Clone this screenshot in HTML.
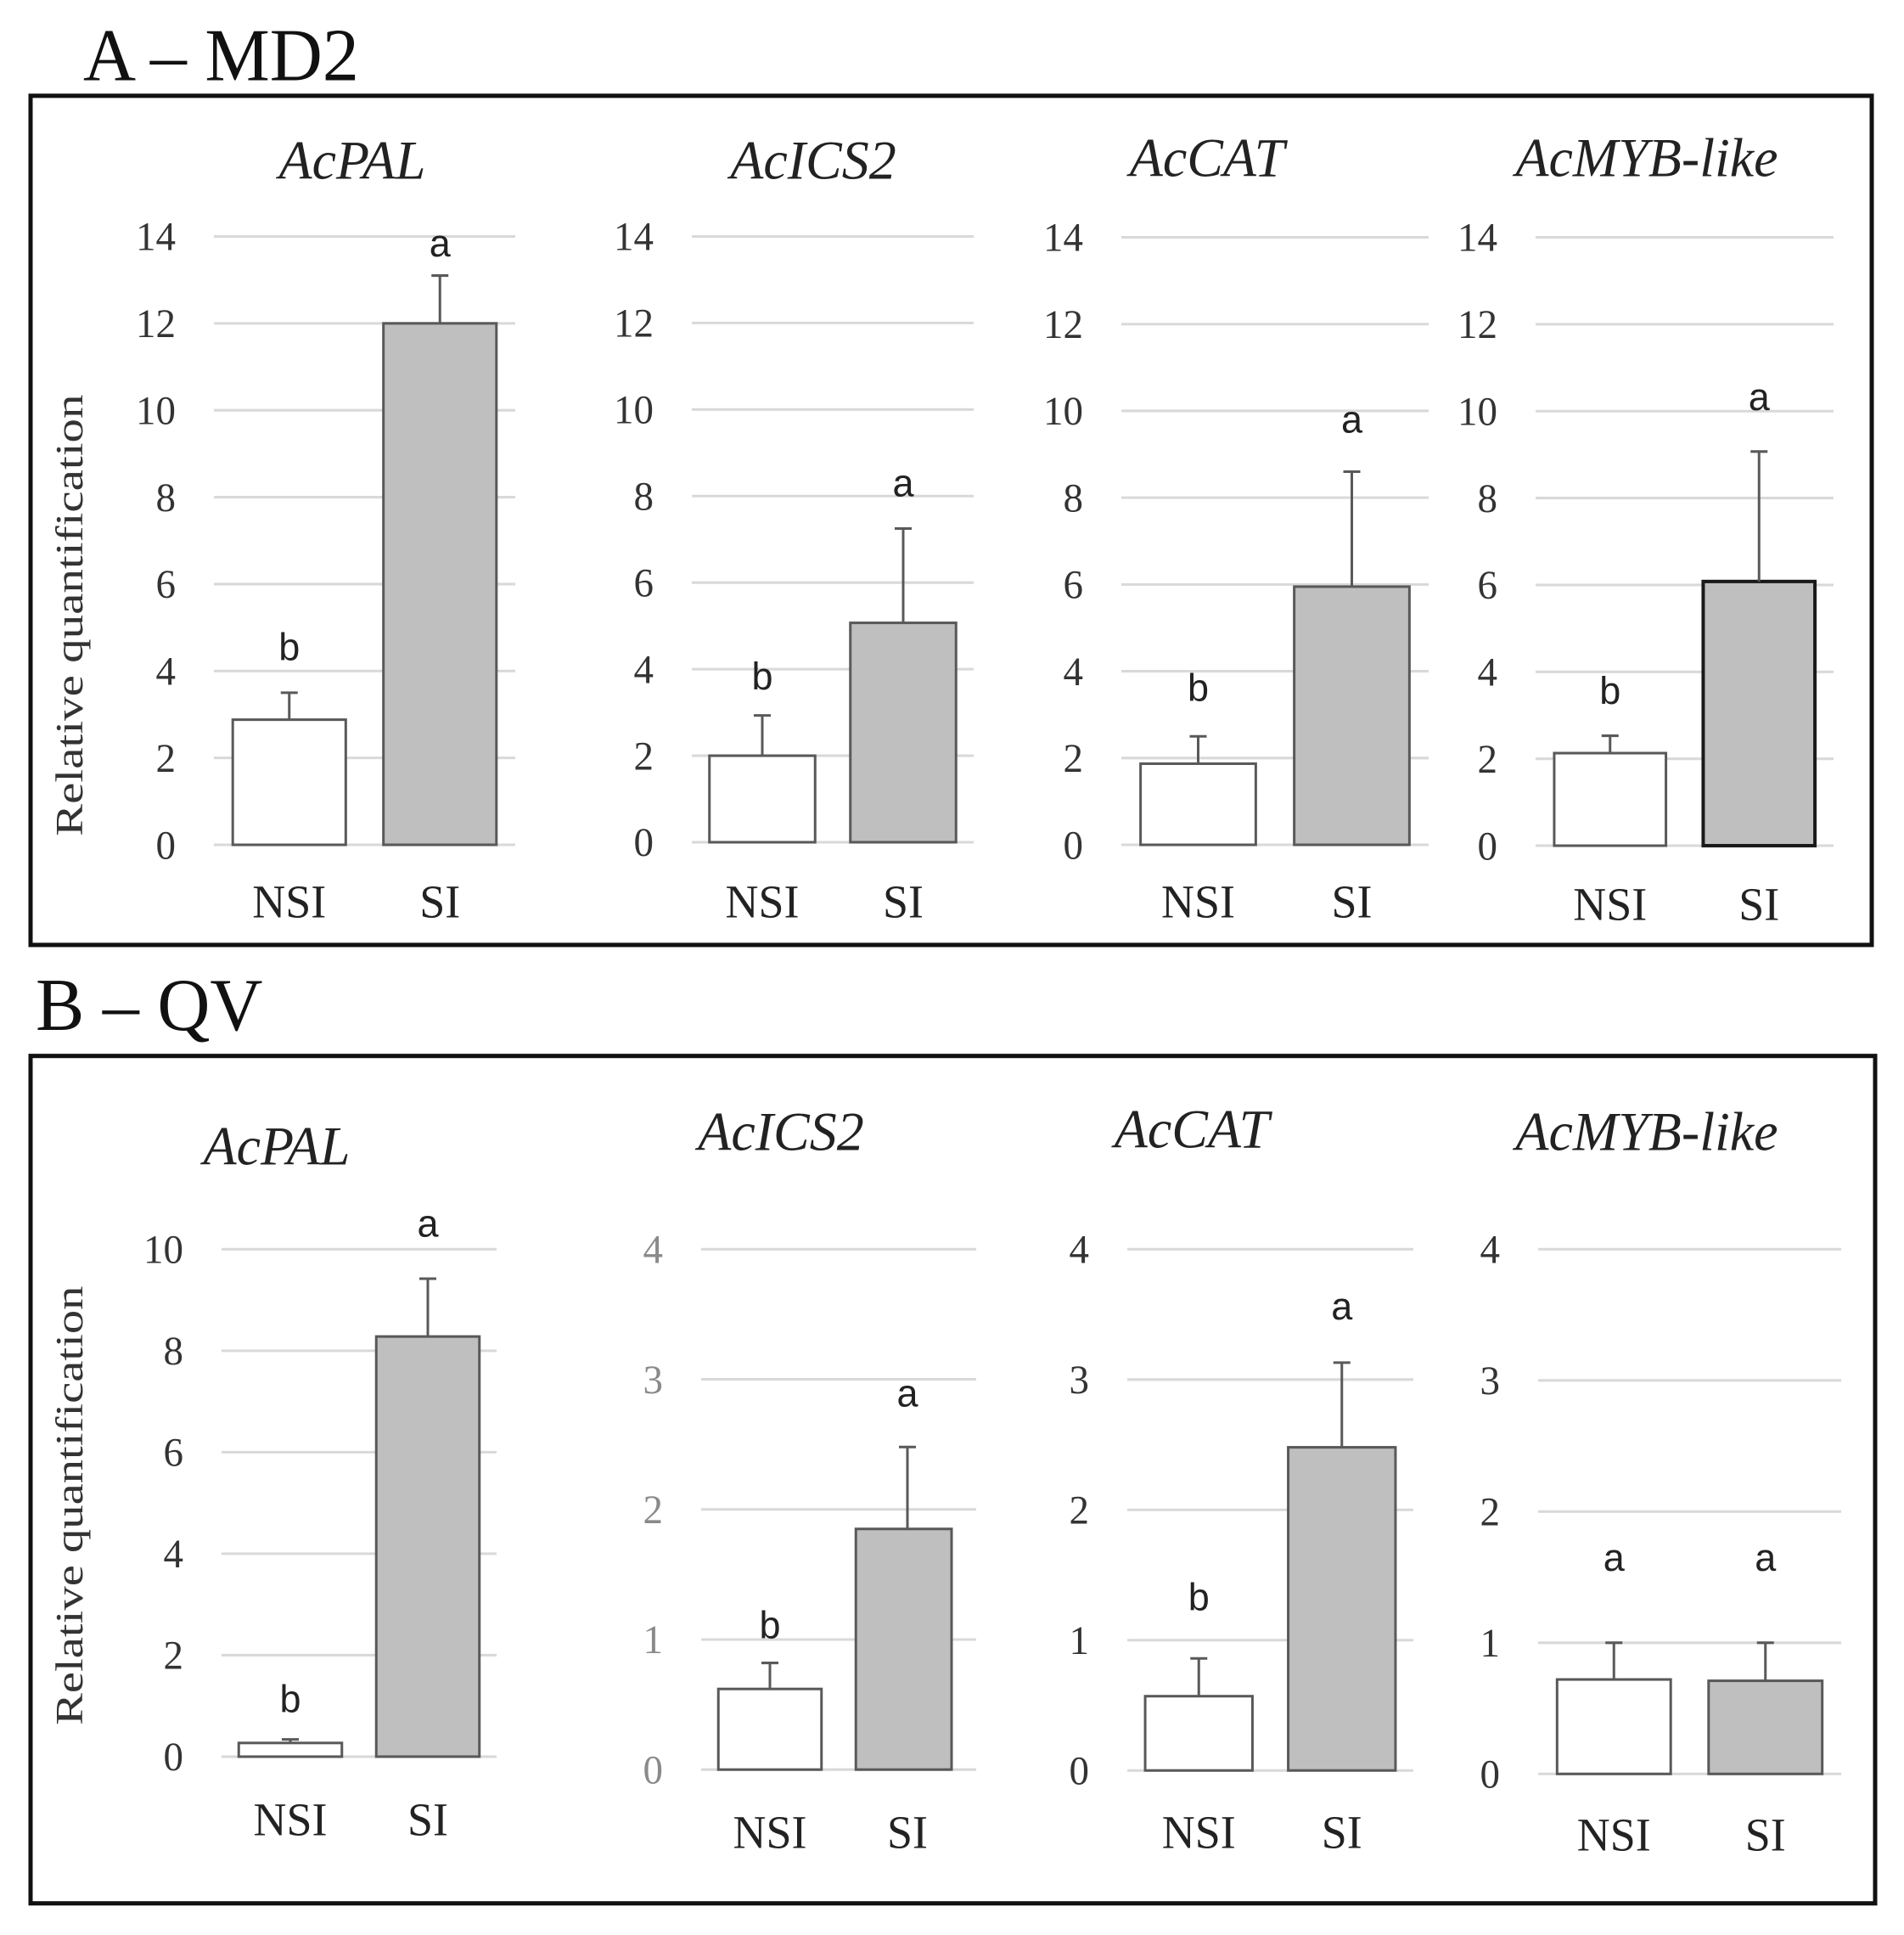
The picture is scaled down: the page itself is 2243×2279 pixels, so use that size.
<!DOCTYPE html>
<html><head><meta charset="utf-8"><style>
html,body{margin:0;padding:0;background:#fff;}
svg{display:block;}
</style></head><body>
<svg id="fig" width="2243" height="2279" viewBox="0 0 2243 2279" xmlns="http://www.w3.org/2000/svg">
<rect x="0" y="0" width="2243" height="2279" fill="#fff"/>
<g id="gA" transform="scale(1,1.01636)">
<text x="98" y="93" font-family="Liberation Serif, serif" font-size="86" fill="#111">A – MD2</text>
<rect x="36" y="111" width="2169" height="984" fill="none" stroke="#111" stroke-width="5"/>
<text transform="translate(97,713) rotate(-90)" text-anchor="middle" font-family="Liberation Serif, serif" font-size="45" fill="#333" textLength="512" lengthAdjust="spacingAndGlyphs">Relative quantification</text>
</g>
<g id="gB" transform="translate(0,1140) scale(1,1.01636) translate(0,-1140)">
<text x="42" y="1212" font-family="Liberation Serif, serif" font-size="86" fill="#111">B – QV</text>
<rect x="36" y="1242" width="2173" height="982" fill="none" stroke="#111" stroke-width="5"/>
<text transform="translate(97,1763) rotate(-90)" text-anchor="middle" font-family="Liberation Serif, serif" font-size="45" fill="#333" textLength="509" lengthAdjust="spacingAndGlyphs">Relative quantification</text>
</g>
</svg>
<script>
const categories = ["NSI", "SI"];
const genes = ["AcPAL", "AcICS2", "AcCAT", "AcMYB-like"];
const meansA = [[2.88, 12.0], [2.0, 5.07], [1.87, 5.95], [2.13, 6.08]];
const errA   = [[3.5, 13.1], [2.93, 7.25], [2.5, 8.6], [2.53, 9.07]];
const lettersA = [["b", "a"], ["b", "a"], ["b", "a"], ["b", "a"]];
const letterPosA = [[4.25, 13.54], [3.53, 8.0], [3.32, 9.5], [3.26, 10.02]];
const ticksA = [[0,2,4,6,8,10,12,14],[0,2,4,6,8,10,12,14],[0,2,4,6,8,10,12,14],[0,2,4,6,8,10,12,14]];
const meansB = [[0.27, 8.28], [0.62, 1.85], [0.57, 2.48], [0.72, 0.71]];
const errB   = [[0.34, 9.42], [0.82, 2.48], [0.86, 3.13], [1.0, 1.0]];
const lettersB = [["b", "a"], ["b", "a"], ["b", "a"], ["a", "a"]];
const letterPosB = [[0.88, 10.25], [1.01, 2.79], [1.23, 3.46], [1.55, 1.55]];
const ticksB = [[0,2,4,6,8,10],[0,1,2,3,4],[0,1,2,3,4],[0,1,2,3,4]];

const NS = "http://www.w3.org/2000/svg";
function mk(tag, attrs, parent) {
  const e = document.createElementNS(NS, tag);
  for (const k in attrs) e.setAttribute(k, attrs[k]);
  parent.appendChild(e);
  return e;
}
const layoutA = [
  {x0:252,x1:607,y0:979,yTop:274,tx:415,ty:207,lab:1063},
  {x0:815,x1:1147,y0:976,yTop:274,tx:958,ty:207,lab:1063},
  {x0:1321,x1:1683,y0:979,yTop:275,tx:1422,ty:204,lab:1063},
  {x0:1809,x1:2160,y0:980,yTop:275,tx:1940,ty:204,lab:1066}
];
const layoutB = [
  {x0:261,x1:585,y0:2054,yTop:1466,tx:326,ty:1368,lab:2145},
  {x0:826,x1:1150,y0:2069,yTop:1466,tx:920,ty:1351,lab:2160,gray:true,clip:1121},
  {x0:1328,x1:1665,y0:2070,yTop:1466,tx:1404,ty:1348,lab:2160},
  {x0:1812,x1:2169,y0:2074,yTop:1466,tx:1940,ty:1351,lab:2163}
];

function drawChart(parent, panel, idx, L, means, errs, letters, letterPos, ticks) {
  const g = mk("g", {}, parent);
  
  
  const maxV = ticks[ticks.length - 1];
  const y = v => L.y0 - (v / maxV) * (L.y0 - L.yTop);
  const bw = (L.x1 - L.x0) / categories.length;
  const xc = i => L.x0 + (i + 0.5) * bw;
  const title = mk("text", {x:L.tx, y:L.ty, "text-anchor":"middle", "font-family":"Liberation Serif, serif", "font-style":"italic", "font-size":64, fill:"#222"}, g);
  title.textContent = genes[idx];
  
  
  ticks.forEach(t => {
    const gl = mk("line", {x1:L.x0, x2:L.x1, y1:y(t), y2:y(t), stroke:"#d9d9d9", "stroke-width":3}, g);
    
    
    const tl = mk("text", {x:L.x0 - 45, y:y(t) + 16, "text-anchor":"end", "font-family":"Liberation Serif, serif", "font-size":47, fill: L.gray ? "#8a8a8a" : "#333"}, g);
    tl.textContent = t;
    
    
  });
  categories.forEach((c, i) => {
    const w = bw * 0.75;
    let left = xc(i) - w / 2, right = xc(i) + w / 2;
    if (L.clip && right > L.clip) right = L.clip;
    const top = y(means[i]);
    const dark = (panel === 'a' && idx === 3 && i === 1);
    const bar = mk("rect", {x:left, y:top, width:right - left, height:L.y0 - top, fill: i === 0 ? "#ffffff" : "#bfbfbf", stroke: dark ? "#1a1a1a" : "#595959", "stroke-width": dark ? 4 : 3}, g);
    
    
    const ey = y(errs[i]);
    const eb = mk("path", {d:`M${xc(i)},${top} V${ey} M${xc(i)-10},${ey} H${xc(i)+10}`, stroke:"#595959", "stroke-width":3, fill:"none"}, g);
    
    
    const lt = mk("text", {x:xc(i), y:y(letterPos[i]), "text-anchor":"middle", "font-family":"Liberation Sans, sans-serif", "font-size":45, fill:"#222"}, g);
    lt.textContent = letters[i];
    
    
    const xl = mk("text", {x:xc(i), y:L.lab, "text-anchor":"middle", "font-family":"Liberation Serif, serif", "font-size":54, fill:"#222"}, g);
    xl.textContent = c;
    
    
  });
}
const gA = document.getElementById("gA");
const gB = document.getElementById("gB");
layoutA.forEach((L, i) => drawChart(gA, 'a', i, L, meansA[i], errA[i], lettersA[i], letterPosA[i], ticksA[i]));
layoutB.forEach((L, i) => drawChart(gB, 'b', i, L, meansB[i], errB[i], lettersB[i], letterPosB[i], ticksB[i]));
</script>
</body></html>
